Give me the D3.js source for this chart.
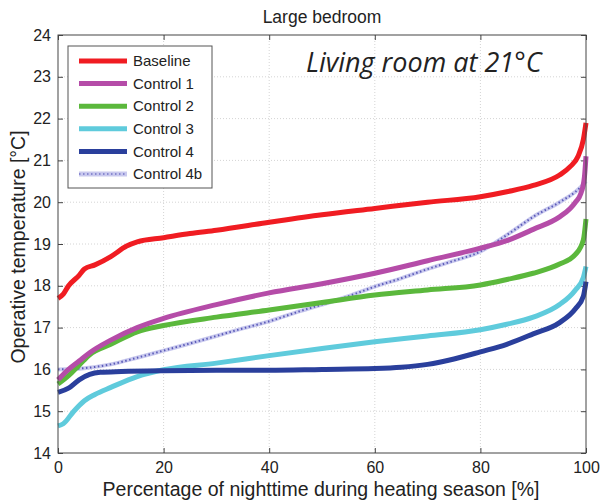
<!DOCTYPE html>
<meta charset="utf-8">
<style>
  body { margin: 0; background: #fff; }
  text { font-family: "Liberation Sans", Arial, sans-serif; fill: #222; }
</style>
<body>
<script src="https://cdn.jsdelivr.net/npm/d3@7"></script>
<script>

// data (x = % of nighttime, y = operative temperature)
var seriesNames = ["Baseline", "Control 1", "Control 2", "Control 3", "Control 4", "Control 4b"];
var seriesColors = ["#f01c22", "#b54ca8", "#5bb83c", "#5fcbdc", "#2a3f9c", "#c9c9ee"];

var baselineX = [0, 1, 2, 4, 5, 7, 10, 13, 15, 20, 25, 30, 40, 50, 60, 70, 80, 85, 90, 95, 97, 98.5, 99.5, 100];
var baselineY = [17.7, 17.8, 18.0, 18.25, 18.4, 18.5, 18.7, 18.95, 19.05, 19.15, 19.25, 19.33, 19.52, 19.7, 19.85, 20.0, 20.13, 20.25, 20.4, 20.65, 20.85, 21.1, 21.5, 21.9];

var control1X = [0, 2, 4, 6, 10, 15, 20, 30, 40, 50, 60, 70, 80, 85, 90, 95, 97, 98, 99, 99.7, 100];
var control1Y = [15.75, 16.0, 16.2, 16.4, 16.7, 17.0, 17.22, 17.55, 17.83, 18.05, 18.3, 18.6, 18.9, 19.08, 19.35, 19.65, 19.85, 20.0, 20.2, 20.6, 21.1];

var control2X = [0, 2, 4, 6, 10, 15, 20, 30, 40, 50, 60, 70, 80, 85, 90, 95, 98, 99.5, 100];
var control2Y = [15.65, 15.85, 16.1, 16.35, 16.6, 16.9, 17.05, 17.25, 17.42, 17.6, 17.78, 17.9, 18.02, 18.15, 18.3, 18.52, 18.75, 19.1, 19.6];

var control3X = [0, 1, 3, 5, 7, 10, 15, 20, 30, 40, 50, 60, 70, 80, 85, 90, 95, 98, 99.5, 100];
var control3Y = [14.65, 14.7, 15.0, 15.25, 15.4, 15.57, 15.83, 15.99, 16.15, 16.33, 16.5, 16.66, 16.8, 16.95, 17.08, 17.25, 17.55, 17.9, 18.2, 18.46];

var control4X = [0, 2, 4, 6, 8, 12, 20, 30, 40, 50, 60, 65, 70, 75, 80, 85, 90, 95, 98, 99.5, 100];
var control4Y = [15.45, 15.55, 15.75, 15.88, 15.93, 15.95, 15.97, 15.98, 15.98, 16.0, 16.02, 16.05, 16.12, 16.25, 16.42, 16.6, 16.85, 17.12, 17.45, 17.75, 18.1];

var control4bX = [0, 5, 10, 15, 20, 25, 30, 35, 40, 46, 50, 55, 60, 65, 70, 75, 80, 83, 86, 90, 95, 98, 99, 100];
var control4bY = [16.0, 16.03, 16.12, 16.28, 16.45, 16.62, 16.8, 16.98, 17.15, 17.4, 17.55, 17.75, 17.98, 18.18, 18.4, 18.6, 18.82, 19.05, 19.3, 19.65, 20.0, 20.25, 20.36, 20.5];

var xTicks = [0, 20, 40, 60, 80, 100];
var yTicks = [14, 15, 16, 17, 18, 19, 20, 21, 22, 23, 24];

var allX = [baselineX, control1X, control2X, control3X, control4X, control4bX];
var allY = [baselineY, control1Y, control2Y, control3Y, control4Y, control4bY];

var series = seriesNames.map(function(name, i) {
  return {
    name: name,
    color: seriesColors[i],
    dotted: name === "Control 4b",
    values: allX[i].map(function(x, j) { return {x: x, y: allY[i][j]}; })
  };
});

var W = 600, H = 502;
var margin = {top: 35, right: 14, bottom: 49, left: 58};
var w = W - margin.left - margin.right,
    h = H - margin.top - margin.bottom;

var svg = d3.select("body").append("svg")
    .attr("width", W)
    .attr("height", H);

var g = svg.append("g")
    .attr("transform", "translate(" + margin.left + "," + margin.top + ")");

var x = d3.scaleLinear().domain([0, 100]).range([0, w]);
var y = d3.scaleLinear().domain([14, 24]).range([h, 0]);

// grid
g.append("g").selectAll("line.gx")
    .data(xTicks.slice(1, -1))
  .enter().append("line")
    .attr("x1", x).attr("x2", x)
    .attr("y1", 0).attr("y2", h)
    .style("stroke", "#d4d4d4").style("stroke-dasharray", "1,2");
g.append("g").selectAll("line.gy")
    .data(yTicks.slice(1, -1))
  .enter().append("line")
    .attr("y1", y).attr("y2", y)
    .attr("x1", 0).attr("x2", w)
    .style("stroke", "#d4d4d4").style("stroke-dasharray", "1,2");

// axes, MATLAB style ticks pointing inwards on all four sides
function styleAxis(sel) {
  sel.select(".domain").remove();
  sel.selectAll(".tick line").style("stroke", "#444");
  sel.selectAll(".tick text").style("font-size", "16px").style("fill", "#222")
     .style("font-family", "'Liberation Sans', Arial, sans-serif");
}

g.append("g")
    .attr("transform", "translate(0," + h + ")")
    .call(d3.axisBottom(x).tickValues(xTicks).tickSize(-5).tickPadding(9))
    .call(styleAxis);
g.append("g")
    .call(d3.axisLeft(y).tickValues(yTicks).tickSize(-5).tickPadding(7).tickFormat(d3.format("d")))
    .call(styleAxis);
g.append("g")
    .call(d3.axisTop(x).tickValues(xTicks).tickSize(-5).tickFormat(""))
    .call(styleAxis);
g.append("g")
    .attr("transform", "translate(" + w + ",0)")
    .call(d3.axisRight(y).tickValues(yTicks).tickSize(-5).tickFormat(""))
    .call(styleAxis);

var line = d3.line()
    .x(function(d) { return x(d.x); })
    .y(function(d) { return y(d.y); })
    .curve(d3.curveMonotoneX);

// draw 4b first so the solid lines sit on top where they cross, as in the picture
var order = [5, 3, 4, 2, 1, 0];
order.forEach(function(i) {
  var s = series[i];
  g.append("path")
      .datum(s.values)
      .attr("d", line)
      .style("fill", "none")
      .style("stroke", s.color)
      .style("stroke-width", s.dotted ? 4 : 5)
      .style("stroke-linejoin", "round");
  if (s.dotted) {
    g.append("path")
        .datum(s.values)
        .attr("d", line)
        .style("fill", "none")
        .style("stroke", "#5a5ab8")
        .style("stroke-width", 2)
        .style("stroke-dasharray", "1.5,2.5");
  }
});

// frame
g.append("rect")
    .attr("width", w).attr("height", h)
    .style("fill", "none").style("stroke", "#444").style("stroke-width", 1);

// legend
var legend = g.append("g").attr("transform", "translate(10,11)");
legend.append("rect")
    .attr("width", 144).attr("height", 142)
    .style("fill", "#fff").style("stroke", "#555");
var items = legend.selectAll("g.item")
    .data(series)
  .enter().append("g")
    .attr("transform", function(d, i) { return "translate(0," + (15 + i * 22.6) + ")"; });
items.append("line")
    .attr("x1", 11).attr("x2", 59)
    .style("stroke", function(d) { return d.color; })
    .style("stroke-width", 5);
items.filter(function(d) { return d.dotted; }).append("line")
    .attr("x1", 11).attr("x2", 59)
    .style("stroke", "#8a8ad0").style("stroke-width", 2)
    .style("stroke-dasharray", "1.5,2.5");
items.append("text")
    .attr("x", 65).attr("dy", "0.35em")
    .style("font-size", "15px")
    .text(function(d) { return d.name; });

// annotation
g.append("text")
    .attr("x", 248).attr("y", 37)
    .style("font-family", "'Open Sans', sans-serif")
    .style("font-style", "italic")
    .style("font-size", "27px")
    .text("Living room at 21°C");

// titles
svg.append("text")
    .attr("x", 322).attr("y", 23)
    .attr("text-anchor", "middle")
    .style("font-size", "17.5px")
    .text("Large bedroom");

svg.append("text")
    .attr("x", 321).attr("y", 496)
    .attr("text-anchor", "middle")
    .style("font-size", "19.5px")
    .text("Percentage of nighttime during heating season [%]");

svg.append("text")
    .attr("transform", "translate(25,247) rotate(-90)")
    .attr("text-anchor", "middle")
    .style("font-size", "19.5px")
    .text("Operative temperature [°C]");

</script>
